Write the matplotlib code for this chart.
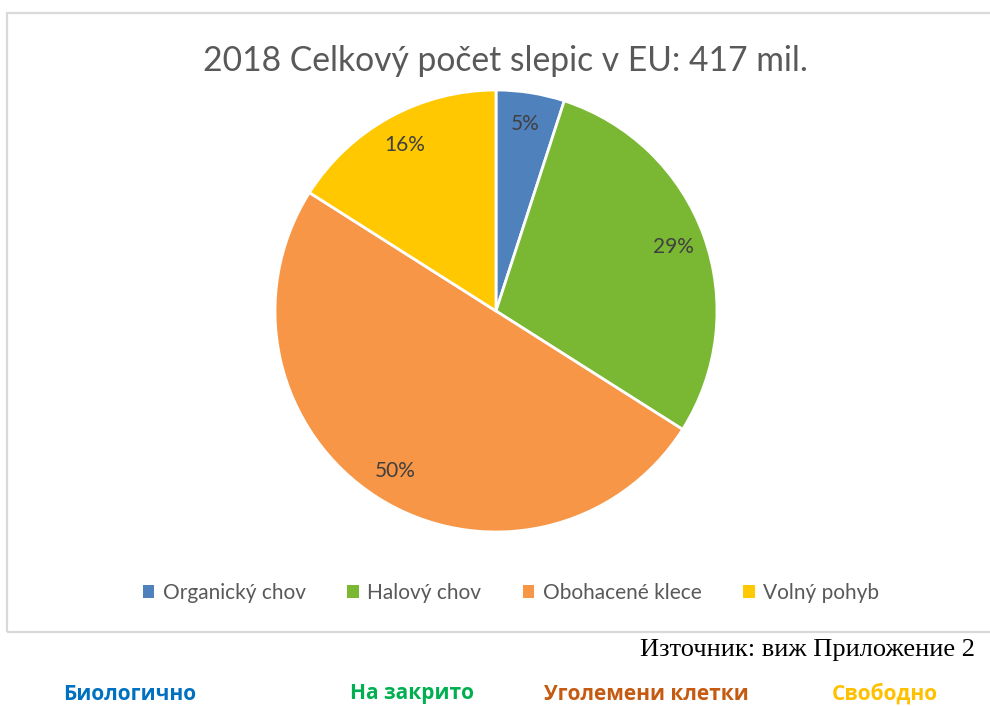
import matplotlib
matplotlib.use('Agg')
import matplotlib.pyplot as plt
from matplotlib.patches import Rectangle, Patch

# podíly chovů nosnic (EU, 2018)
categories = ['Organický chov', 'Halový chov', 'Obohacené klece', 'Volný pohyb']
shares = [5, 29, 50, 16]
colors = ['#4F81BD', '#7AB833', '#F79646', '#FFC800']

title_text = '2018 Celkový počet slepic v EU: 417 mil.'
source_text = 'Източник: виж Приложение 2'
bg_labels = ['Биологично', 'На закрито', 'Уголемени клетки', 'Свободно']
bg_colors = ['#0070C0', '#00B050', '#C55A11', '#FFC000']
bg_x = [130, 412, 646, 885]

W, H = 990, 706
fig = plt.figure(figsize=(W / 100, H / 100), dpi=100)

# rámeček grafu
fig.patches.append(Rectangle((7 / W, 1 - 632 / H), 1.0, (632 - 13) / H,
                             transform=fig.transFigure, fill=False,
                             edgecolor='#D9D9D9', linewidth=1.6))

# koláč
cx, cy, r = 496, 311, 221
ax = fig.add_axes([(cx - r) / W, 1 - (cy + r) / H, 2 * r / W, 2 * r / H])
wedges, texts, autotexts = ax.pie(
    shares, colors=colors, startangle=90, counterclock=False,
    autopct='%d%%', pctdistance=0.855,
    wedgeprops=dict(edgecolor='white', linewidth=2),
    textprops=dict(color='#404040', fontsize=15, family=['Lato', 'DejaVu Sans']))
ax.set_xlim(-1, 1)
ax.set_ylim(-1, 1)
ax.set_aspect('auto')

fig.text(505 / W, 1 - 61 / H, title_text, ha='center', va='center',
         fontsize=24.2, color='#595959', family=['Lato', 'DejaVu Sans'])

handles = [Patch(facecolor=c, edgecolor='none') for c in colors]
fig.legend(handles, categories, loc='center', ncol=4,
           bbox_to_anchor=(511 / W, 1 - 593 / H), frameon=False,
           handlelength=0.55, handleheight=0.55, handletextpad=0.4,
           columnspacing=2.0,
           prop=dict(size=15, family=['Lato', 'DejaVu Sans']),
           labelcolor='#595959')

fig.text(975 / W, 1 - 650 / H, source_text, ha='right', va='center',
         fontsize=19, color='black', family=['Liberation Serif'])

for lab, col, x in zip(bg_labels, bg_colors, bg_x):
    fig.text(x / W, 1 - 694 / H, lab, ha='center', va='center',
             fontsize=15, fontweight='bold', color=col,
             family=['Open Sans', 'DejaVu Sans'])

fig.savefig('out.png', dpi=100, facecolor='white')
